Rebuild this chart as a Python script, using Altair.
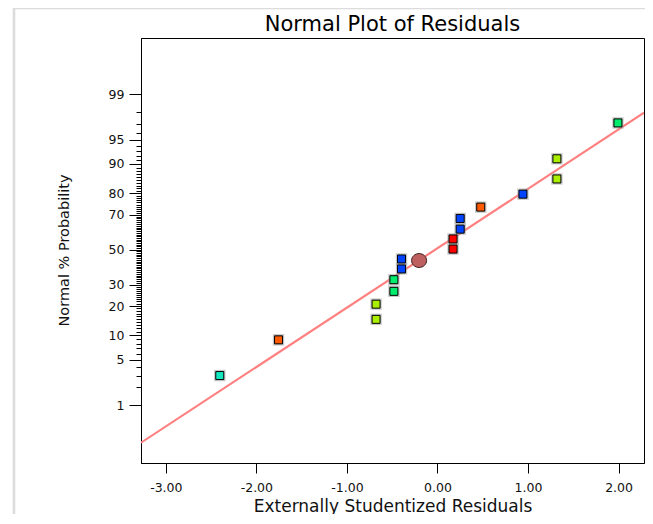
import json
from statistics import NormalDist

import altair as alt
import pandas as pd

# ---------------- data ----------------
chart_title = ["Normal Plot of Residuals"]

resid_x = [-2.404, -1.755, -0.678, -0.678, -0.481, -0.481, -0.397, -0.397,
           0.172, 0.172, 0.251, 0.251, 0.478, 0.944, 1.319, 1.319, 1.993]
prob_pct = [3.0, 8.9, 14.9, 20.8, 26.7, 32.7, 38.7, 44.5,
            50.4, 56.4, 62.1, 68.0, 73.8, 79.7, 85.5, 91.3, 97.1]
level = ["L2", "L5", "L4", "L4", "L3", "L3", "L1", "L1",
         "L6", "L6", "L1", "L1", "L5", "L1", "L4", "L4", "L3"]
level_names = ["L1", "L2", "L3", "L4", "L5", "L6"]

center_x = [-0.203]
center_pct = [43.6]

fit_x = [-3.274, 2.281]
fit_pct = [0.196, 97.97]

x_ticks = [-3, -2, -1, 0, 1, 2]
y_major = [1, 5, 10, 20, 30, 50, 70, 80, 90, 95, 99]
y_minor = list(range(1, 100))

x_domain = [-3.274, 2.281]
y_domain = [-3.188, 3.165]

# ---------------- helpers ----------------
nd = NormalDist()


def probit(p):
    return nd.inv_cdf(p / 100.0)


pts = pd.DataFrame({"x": resid_x, "z": [probit(p) for p in prob_pct],
                    "pct": prob_pct, "level": level})
ctr = pd.DataFrame({"x": center_x, "z": [probit(p) for p in center_pct]})
fit = pd.DataFrame({"x": fit_x, "z": [probit(p) for p in fit_pct]})
frame = pd.DataFrame({"a": [0]})
ttl = pd.DataFrame({"t": chart_title})

tick_vals = [probit(p) for p in y_minor]
major_keys = [round(probit(p) * 10000) for p in y_major]
major_labels = [str(p) for p in y_major]
keys_js = json.dumps(major_keys)
labels_js = json.dumps(major_labels)
idx = f"indexof({keys_js}, round(datum.value*10000))"
y_label_expr = f"{idx} >= 0 ? {labels_js}[{idx}] : ''"

FONT = "DejaVu Sans"
W, H = 503, 425

x_scale = alt.Scale(domain=x_domain, nice=False, zero=False)
y_scale = alt.Scale(domain=y_domain, nice=False, zero=False)

x_axis = alt.Axis(
    values=x_ticks,
    labelExpr="(datum.value < 0 ? '-' : '') + format(abs(datum.value), '.2f')",
    tickSize=10, labelPadding=8, labelFontSize=12.5, grid=False,
    title="Externally Studentized Residuals", titleFontSize=17,
    titleFontWeight="normal", titleBaseline="alphabetic", titleY=48,
    labelFlush=False,
)
y_axis = alt.Axis(
    values=tick_vals, tickCount=200,
    labelExpr=y_label_expr,
    tickSize={"condition": {"test": f"{idx} >= 0", "value": 12}, "value": 5},
    labelPadding=5, labelFontSize=12.5, grid=False, labelOverlap=False,
    title="Normal % Probability", titleFontSize=14.5, titleFontWeight="normal",
    titleBaseline="alphabetic", titleX=-72.7, titleY=212, labelFlush=False,
)

border = alt.Chart(frame).mark_rect(
    filled=False, stroke="#dcdcdc", strokeWidth=2.6
).encode(x=alt.value(-127), x2=alt.value(600), y=alt.value(-30), y2=alt.value(600))

title = alt.Chart(ttl).mark_text(
    font=FONT, fontSize=21, color="black", align="center", baseline="alphabetic"
).encode(text="t:N", x=alt.value(W / 2), y=alt.value(-7))

line = alt.Chart(fit).mark_line(color="#ff8080", strokeWidth=2.2, clip=True).encode(
    x=alt.X("x:Q", scale=x_scale, axis=x_axis),
    y=alt.Y("z:Q", scale=y_scale, axis=y_axis),
)

halo = alt.Chart(pts).mark_point(
    shape="square", filled=True, size=130, color="#9a9a9a", opacity=0.55
).encode(x="x:Q", y="z:Q")

squares = alt.Chart(pts).mark_point(
    shape="square", filled=True, size=64, stroke="black", strokeWidth=1,
    opacity=1
).encode(
    x="x:Q", y="z:Q",
    fill=alt.Fill("level:N", legend=None, scale=alt.Scale(
        domain=level_names,
        range=["#0044ff", "#14e8c0", "#00ec6c", "#aaee00", "#ff5a00", "#ff0000"])),
)

ellipse = alt.Chart(ctr).mark_point(
    shape="M-1,0A1,0.93,0,1,1,1,0A1,0.93,0,1,1,-1,0Z", filled=True,
    size=225, fill="#be6060", stroke="#3a2020", strokeWidth=1, opacity=1
).encode(x="x:Q", y="z:Q")

chart = alt.layer(border, line, halo, squares, ellipse, title).properties(
    width=W, height=H,
    autosize=alt.AutoSizeParams(type="none"),
    padding={"left": 133, "top": 30, "right": 1, "bottom": 51},
).configure(font=FONT).configure_view(stroke="black", strokeWidth=1).configure_axis(
    domainColor="black", tickColor="black", labelColor="#111111",
    titleColor="#111111", labelFont=FONT, titleFont=FONT, domainWidth=1,
    tickWidth=1,
)

chart.save("out.html", embed_options={"renderer": "svg", "actions": False})
